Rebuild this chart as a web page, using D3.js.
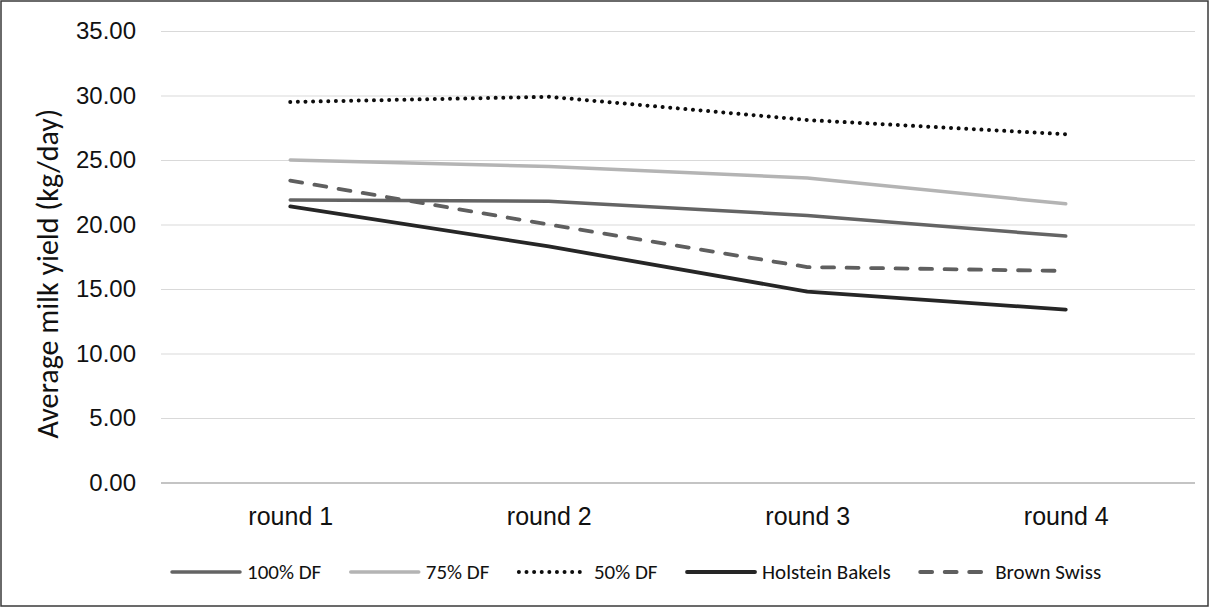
<!DOCTYPE html>
<html>
<head>
<meta charset="utf-8">
<script src="https://cdn.jsdelivr.net/npm/d3@7/dist/d3.min.js"></script>
<style>
  html, body { margin: 0; padding: 0; background: #fff; }
  svg { display: block; font-family: Carlito, Lato, "Open Sans", sans-serif; }
</style>
</head>
<body>
<svg id="chart" width="1212" height="608"></svg>
<script>
// Rounds on the x axis
const rounds = ["round 1", "round 2", "round 3", "round 4"];

// Average milk yield (kg/day) per group and round
const df100 = [21.9, 21.8, 20.7, 19.1];
const df75 = [25.0, 24.5, 23.6, 21.6];
const df50 = [29.5, 29.9, 28.1, 27.0];
const holsteinBakels = [21.4, 18.3, 14.8, 13.4];
const brownSwiss = [23.4, 20.0, 16.7, 16.4];

const seriesNames = ["100% DF", "75% DF", "50% DF", "Holstein Bakels", "Brown Swiss"];

// Y axis ticks
const yTicks = [0, 5, 10, 15, 20, 25, 30, 35];

const series = [
  { name: seriesNames[0], values: df100, color: "#646464", width: 3.5, dash: null },
  { name: seriesNames[1], values: df75, color: "#b4b4b4", width: 3.5, dash: null },
  { name: seriesNames[2], values: df50, color: "#0d0d0d", width: 4, dash: "0.01,7.6" },
  { name: seriesNames[3], values: holsteinBakels, color: "#262626", width: 3.8, dash: null },
  { name: seriesNames[4], values: brownSwiss, color: "#5f5f5f", width: 3.8, dash: "12,12.5" }
];

const svg = d3.select("#chart");
const W = 1212, H = 608;
const plot = { left: 161, right: 1195, top: 31, bottom: 482.5 };

// Outer chart border
svg.append("rect")
  .attr("x", 1).attr("y", 1)
  .attr("width", W - 5).attr("height", H - 3)
  .attr("fill", "#fff")
  .attr("stroke", "#3a3a3a")
  .attr("stroke-width", 1.5);

const x = d3.scalePoint()
  .domain(rounds)
  .range([plot.left, plot.right])
  .padding(0.5);

const y = d3.scaleLinear()
  .domain([0, 35])
  .range([plot.bottom, plot.top]);

// Horizontal gridlines with value labels
const yAxis = d3.axisLeft(y)
  .tickValues(yTicks)
  .tickSize(-(plot.right - plot.left))
  .tickPadding(25)
  .tickFormat(d3.format(".2f"));

const gy = svg.append("g")
  .attr("transform", `translate(${plot.left},0)`)
  .call(yAxis);
gy.select(".domain").remove();
gy.selectAll(".tick line")
  .attr("stroke", d => d === 0 ? "#b0b0b0" : "#d9d9d9")
  .attr("stroke-width", d => d === 0 ? 1.5 : 1.2);
gy.selectAll(".tick text")
  .attr("fill", "#111")
  .style("font-size", "24px");

// Category labels
const xAxis = d3.axisBottom(x).tickSize(0).tickPadding(25);
const gx = svg.append("g")
  .attr("transform", `translate(0,${plot.bottom})`)
  .call(xAxis);
gx.select(".domain").remove();
gx.selectAll(".tick text")
  .attr("fill", "#111")
  .style("font-size", "25px");

// Y axis title
svg.append("text")
  .attr("transform", `translate(47,${(plot.top + plot.bottom) / 2 + 17}) rotate(-90)`)
  .attr("text-anchor", "middle")
  .attr("dy", "0.35em")
  .attr("fill", "#111")
  .style("font-size", "30px")
  .text("Average milk yield (kg/day)");

// Series lines
const line = d3.line()
  .x((d, i) => x(rounds[i]))
  .y(d => y(d));

svg.append("g").selectAll("path")
  .data(series)
  .join("path")
  .attr("d", d => line(d.values))
  .attr("fill", "none")
  .attr("stroke", d => d.color)
  .attr("stroke-width", d => d.width)
  .attr("stroke-linecap", "round")
  .attr("stroke-linejoin", "round")
  .attr("stroke-dasharray", d => d.dash);

// Legend laid out left to right
const legend = svg.append("g").attr("transform", "translate(0,572)");
let cursor = 171;
series.forEach(s => {
  const g = legend.append("g");
  g.append("line")
    .attr("x1", cursor + 1).attr("x2", cursor + 69)
    .attr("y1", 0).attr("y2", 0)
    .attr("stroke", s.color)
    .attr("stroke-width", s.width)
    .attr("stroke-linecap", "round")
    .attr("stroke-dasharray", s.dash);
  const t = g.append("text")
    .attr("x", cursor + 76)
    .attr("y", 0)
    .attr("dy", "0.35em")
    .attr("fill", "#111")
    .style("font-size", "21px")
    .text(s.name);
  cursor += 76 + t.node().getComputedTextLength() + 28.5;
});
</script>
</body>
</html>
